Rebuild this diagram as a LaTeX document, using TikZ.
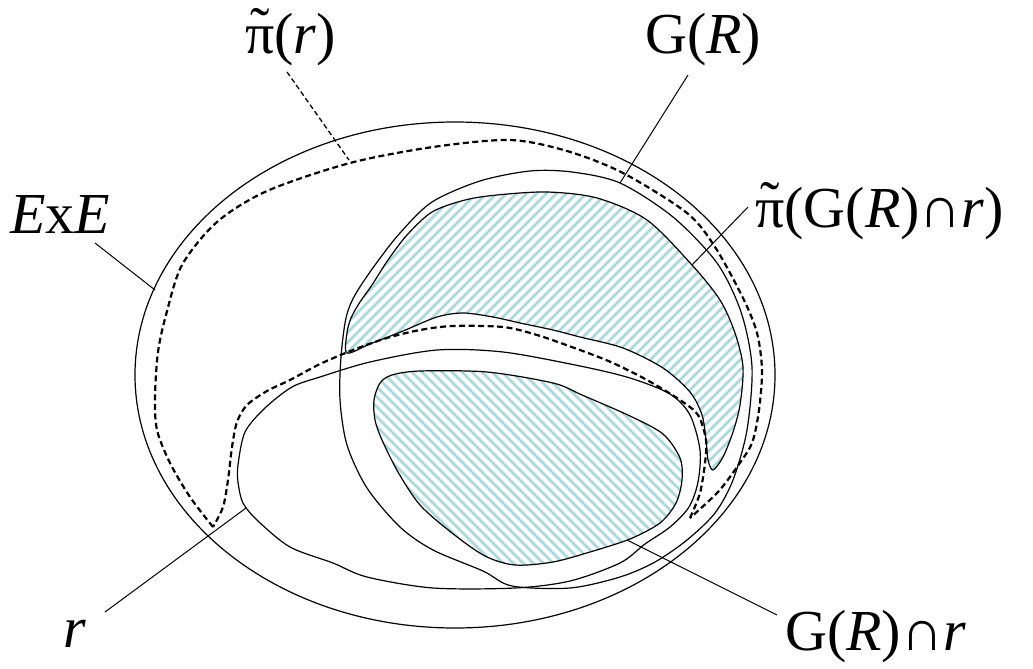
\documentclass[tikz,border=0pt]{standalone}
\usepackage{fontspec}
\setmainfont{Liberation Serif}
\definecolor{hatchcol}{RGB}{168,217,221}
\newcommand{\pitld}{\setbox0=\hbox{π}\hbox to\wd0{\hss\raisebox{0.1em}{\char"02DC}\hss}\kern-\wd0\box0}
\tikzset{
  curve/.style={line width=1.2pt, draw=black},
  dashcurve/.style={line width=2.2pt, dash pattern=on 6pt off 3.5pt},
  leader/.style={line width=1pt},
  dleader/.style={line width=1.3pt, dash pattern=on 5pt off 3pt},
  hatchline/.style={draw=hatchcol, line width=2.6pt},
  lbl/.style={anchor=base west, inner sep=0pt, font=\fontsize{58}{60}\selectfont},
}
% hatch rising to the right
\newcommand{\hatchNE}[1]{%
  \begin{scope}
    \clip plot[smooth cycle, tension=0.5] coordinates {#1};
    \foreach \k in {-40,...,100}{\draw[hatchline] (\k*10,700) -- ++(700,-700);}
  \end{scope}
  \draw[curve] plot[smooth cycle, tension=0.5] coordinates {#1};}
% hatch falling to the right
\newcommand{\hatchNW}[1]{%
  \begin{scope}
    \clip plot[smooth cycle, tension=0.5] coordinates {#1};
    \foreach \k in {-40,...,100}{\draw[hatchline] (\k*10,0) -- ++(700,700);}
  \end{scope}
  \draw[curve] plot[smooth cycle, tension=0.5] coordinates {#1};}
\begin{document}
\begin{tikzpicture}[x=1pt,y=-1pt]
\useasboundingbox (0,0) rectangle (1033,669);
% hatched regions
\hatchNE{(347,353) (347,333) (351,318) (360,302) (372,285) (388,260) (407,235) (432,212) (465,200) (497,195) (547,192) (597,198) (647,220) (692,265) (720,300) (735,333) (743,367) (740,405) (733,432) (723,457) (713,470) (708,460) (706,440) (702,415) (690,392) (663,368) (623,348) (580,337) (553,330) (520,323) (493,317) (463,313) (437,317) (403,331) (370,344)}
\hatchNW{(374,400) (380,383) (392,375) (420,371) (487,372) (553,383) (582,395) (630,416) (663,434) (680,458) (682,480) (676,503) (660,523) (630,539) (590,552) (553,562) (515,565) (485,556) (452,533) (420,505) (398,472) (382,440) (375,420)}
% outer set E x E
\draw[curve] (455,375) ellipse [x radius=320pt, y radius=253pt];
% G(R)
\draw[curve] plot[smooth cycle, tension=0.5] coordinates {(340,400) (341,357) (346,318) (355,295) (375,265) (400,233) (432,202) (480,181) (530,171) (572,172) (620,183) (673,217) (717,263) (741,312) (752,367) (747,430) (733,480) (715,513) (687,540) (655,562) (620,577) (570,588) (512,586) (483,571) (433,550) (400,527) (367,488) (347,445)};
% r
\draw[curve] plot[smooth cycle, tension=0.5] coordinates {(238,465) (245,432) (265,408) (292,387) (320,377) (370,362) (437,350) (503,352) (580,366) (630,378) (670,394) (690,415) (700,450) (698,482) (689,507) (670,527) (645,544) (620,563) (570,581) (515,588) (433,588) (367,577) (333,563) (290,547) (258,521) (243,503) (238,482)};
% dashed pi(r)
\draw[dashcurve] plot[smooth, tension=0.5] coordinates {(213,527) (190,497) (170,463) (157,430) (155,397) (158,352) (166,315) (182,265) (217,222) (267,191) (350,163) (433,147) (510,140) (567,151) (623,173) (687,213) (715,247) (743,298) (757,333) (762,370) (759,410) (752,443) (737,467) (718,492) (690,518)};
\draw[dashcurve] plot[smooth, tension=0.5] coordinates {(690,518) (700,493) (705,463) (706,440) (698,415) (680,400) (647,380) (613,363) (580,350) (537,335) (503,327) (453,326) (420,330) (387,338) (353,350) (320,364) (290,380) (267,391) (247,405) (237,422) (232,447) (228,480) (223,507) (213,527)};
% labels
\node[lbl] (lpir) at (245,53) {\pitld(\textit{r})};
\node[lbl] (lgr) at (645,53) {G(\textit{R})};
\node[lbl] (lpigr) at (755,227) {\pitld(G(\textit{R})∩\textit{r})};
\node[lbl] (lexe) at (10,233) {\textit{E}x\textit{E}};
\node[lbl] (lr) at (63,647) {\textit{r}};
\node[lbl] (lgrr) at (785,650) {G(\textit{R})∩\textit{r}};
% leader coordinates
\coordinate (pirA) at (287,72);   \coordinate (pirB) at (349,160);
\coordinate (grA) at (688,75);    \coordinate (grB) at (620,183);
\coordinate (pigrA) at (748,207); \coordinate (pigrB) at (692,265);
\coordinate (exeA) at (95,243);   \coordinate (exeB) at (155,290);
\coordinate (rA) at (105,612);    \coordinate (rB) at (246,508);
\coordinate (grrA) at (777,615);  \coordinate (grrB) at (627,540);
\draw[dleader] (pirA) -- (pirB);
\draw[leader] (grA) -- (grB);
\draw[leader] (pigrA) -- (pigrB);
\draw[leader] (exeA) -- (exeB);
\draw[leader] (rA) -- (rB);
\draw[leader] (grrA) -- (grrB);
\end{tikzpicture}
\end{document}
